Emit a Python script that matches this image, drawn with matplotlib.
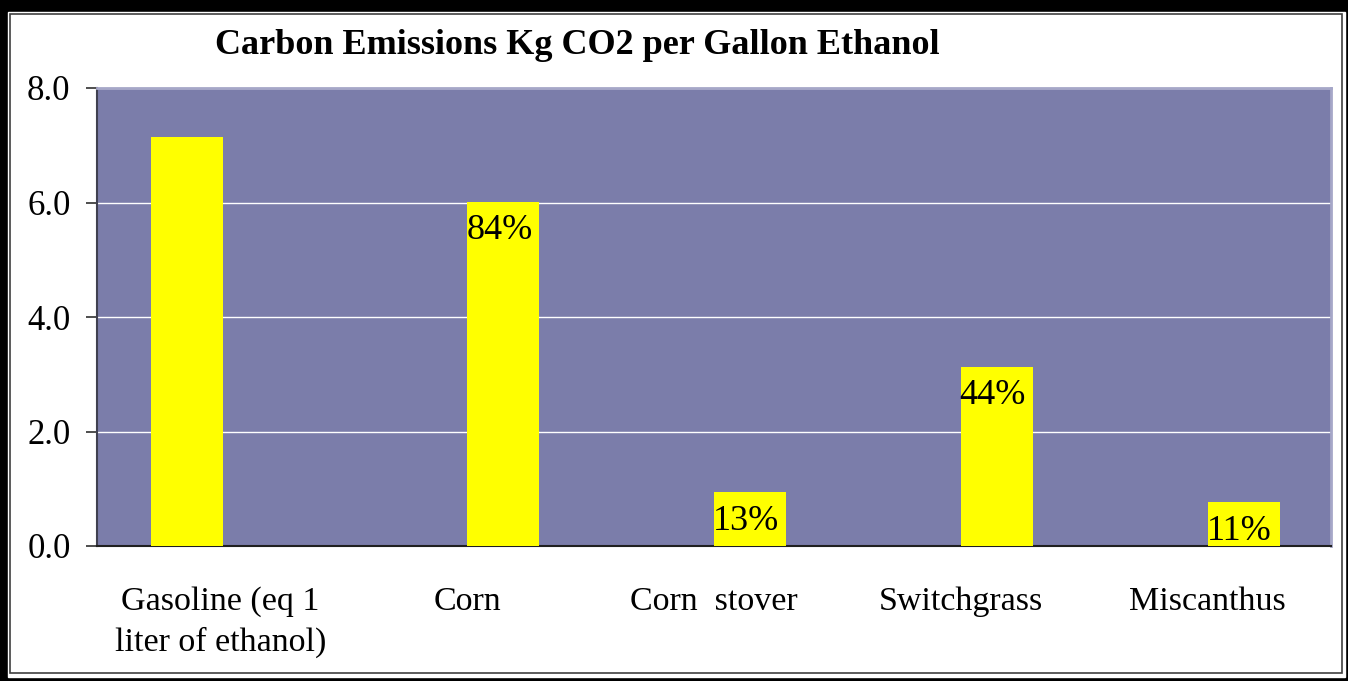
import numpy as np
import matplotlib.pyplot as plt
from matplotlib.patches import Rectangle

categories = ['Gasoline (eq 1\nliter of ethanol)', 'Corn', 'Corn  stover',
              'Switchgrass', 'Miscanthus']
gasoline = [7.14, np.nan, np.nan, np.nan, np.nan]
ethanol = [np.nan, 6.01, 0.94, 3.13, 0.76]

plt.rcParams['font.family'] = ['Liberation Serif', 'DejaVu Serif']

fig = plt.figure(figsize=(13.48, 6.81), dpi=100, facecolor='black')
W, H = 1348, 681

# white panel with double border
fig.patches.append(Rectangle((8 / W, 1 - 677 / H), 1337 / W, 665 / H,
                             transform=fig.transFigure, facecolor='white',
                             edgecolor='white', lw=1, zorder=-2))
fig.patches.append(Rectangle((10 / W, 1 - 673 / H), 1332 / W, 659 / H,
                             transform=fig.transFigure, facecolor='white',
                             edgecolor='#404040', lw=1.2, zorder=-1))

ax = fig.add_axes([97 / W, 1 - 546 / H, 1234 / W, 458 / H])
ax.set_facecolor('#7B7DAA')

x = np.arange(len(categories))
w = 0.292
ax.bar(x - 0.135, gasoline, w, color='#FFFF00', zorder=3)
ax.bar(x + 0.146, ethanol, w, color='#FFFF00', zorder=3)

# share of gasoline emissions printed inside each bar
for xi, v in zip(x, ethanol):
    if np.isnan(v):
        continue
    ax.annotate(f'{v / gasoline[0] * 100:.0f}%', (xi + 0.13, v),
                xytext=(0, -9), textcoords='offset points',
                ha='center', va='top', fontsize=26, zorder=4)

ax.set_xlim(-0.5, len(categories) - 0.5)
ax.set_ylim(0, 8)
ax.set_yticks([0, 2, 4, 6, 8])
ax.set_yticklabels([f'{t:.1f}' for t in [0, 2, 4, 6, 8]], fontsize=25)
ax.set_xticks(x)
ax.set_xticklabels(categories, fontsize=24.5, linespacing=1.4)
ax.tick_params(axis='x', length=0, pad=29)
ax.tick_params(axis='y', length=8, width=1.2, color='#303030', pad=11)

ax.grid(axis='y', color='white', lw=1, zorder=1)
ax.spines['left'].set_color('#404050')
ax.spines['bottom'].set_color('#202020')
ax.spines['left'].set_linewidth(1.5)
ax.spines['bottom'].set_linewidth(1.5)
ax.spines['top'].set_color('#A6A7C8')
ax.spines['right'].set_color('#A6A7C8')
ax.spines['top'].set_linewidth(2)
ax.spines['right'].set_linewidth(2)

fig.text(577 / W, 1 - 45 / H, 'Carbon Emissions Kg CO2 per Gallon Ethanol',
         ha='center', va='center', fontsize=26, fontweight='bold')

fig.savefig('out.png', dpi=100, facecolor='black')
